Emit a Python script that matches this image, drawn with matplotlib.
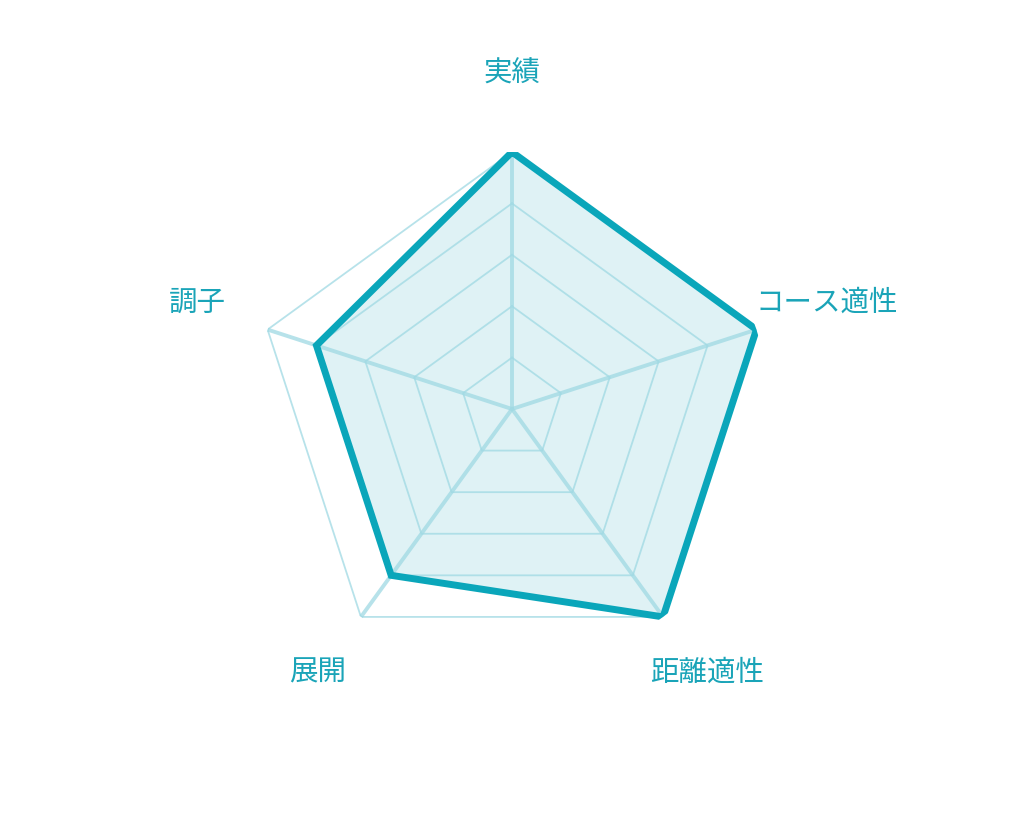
import numpy as np
import matplotlib
matplotlib.use('Agg')
import matplotlib.pyplot as plt
from matplotlib.transforms import offset_copy

plt.rcParams['font.family'] = ['Noto Sans CJK JP', 'DejaVu Sans']

labels = ['実績', 'コース適性', '距離適性', '展開', '調子']
values = [5, 5, 5, 4, 4]
levels = [1, 2, 3, 4, 5]
rmax = 5

line_col = '#0aa6ba'
fill_col = '#dff2f5'
grid_col = '#9fd9e3'
text_col = '#1aa4b8'

n = len(labels)
theta = np.arange(n) * 2 * np.pi / n
theta_c = np.append(theta, theta[0])

fig = plt.figure(figsize=(10.24, 8.2), dpi=100)
w = 514 / 1024
h = 514 / 820
ax = fig.add_axes([0.5 - w / 2, 0.5 - h / 2, w, h], projection='polar')
ax.set_theta_offset(np.pi / 2)
ax.set_theta_direction(-1)
ax.set_ylim(0, rmax)
ax.grid(False)
ax.set_xticks([])
ax.set_yticks([])
ax.spines['polar'].set_visible(False)
ax.patch.set_alpha(0)

# data fill first
v = np.append(values, values[0])
ax.fill(theta_c, v, color=fill_col, zorder=1)

# grid rings
for lv in levels:
    ax.plot(theta_c, [lv] * (n + 1), color=grid_col, lw=1.3, alpha=0.75, zorder=2)
# spokes
for t in theta:
    ax.plot([t, t], [0, rmax], color=grid_col, lw=2.8, alpha=0.75, zorder=2,
            solid_capstyle='butt')

ax.plot(theta_c, v, color=line_col, lw=5, zorder=3, solid_joinstyle='miter')

lab_tr = offset_copy(ax.transData, fig=fig, x=0, y=5, units='dots')
for t, lab in zip(theta, labels):
    ax.text(t, 6.44, lab, ha='center', va='center', fontsize=20.5,
            color=text_col, clip_on=False, transform=lab_tr)

fig.savefig('out.png', dpi=100)
